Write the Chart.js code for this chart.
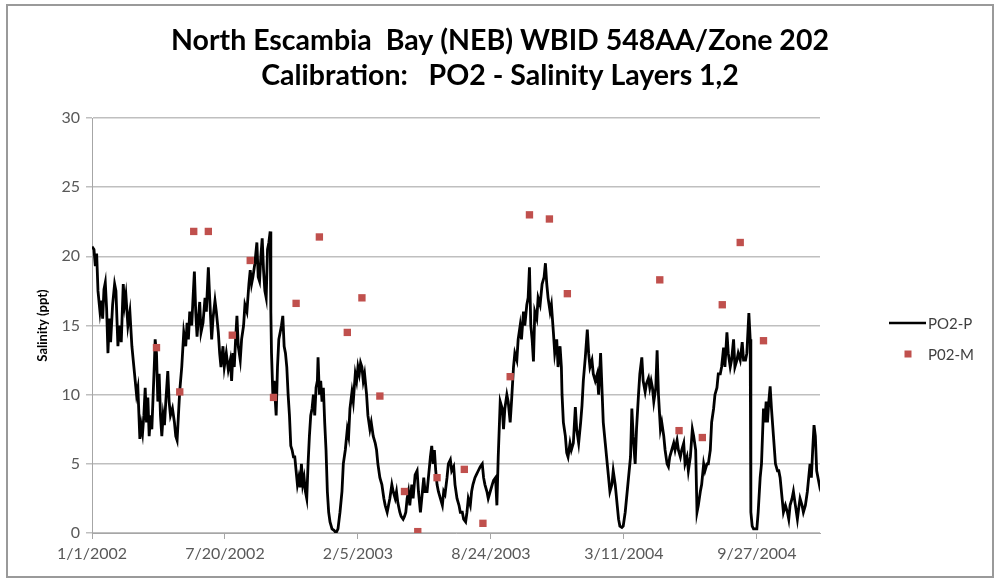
<!DOCTYPE html>
<html>
<head>
<meta charset="utf-8">
<script src="https://cdn.jsdelivr.net/npm/chart.js@4.4.1/dist/chart.umd.min.js"></script>
<style>
  html, body { margin: 0; padding: 0; background: #fff; }
  #wrap { width: 997px; height: 578px; }
</style>
</head>
<body>
<div id="wrap"><canvas id="chart" width="997" height="578"></canvas></div>
<script>
// ==========================================
// DATA (days since 1/1/2002, salinity in ppt)
// ==========================================
const xTickDays = [0, 200, 400, 600, 800, 1000];
const xTickLabels = ['1/1/2002', '7/20/2002', '2/5/2003', '8/24/2003', '3/11/2004', '9/27/2004'];

// PO2-P model line
const lineDays = [
  0,3,5,7,9,12,14,16,18,20,22,24,26,28,31,34,36,39,41,44,47,49,51,54,57,60,62,64,67,69,
  72,74,76,78,80,82,84,86,88,90,92,94,95,97,99,101,103,105,107,109,111,114,116,118,121,124,126,128,130,132,
  135,138,141,143,145,147,150,152,154,156,158,160,162,164,167,170,172,175,177,180,182,185,187,190,192,194,197,199,202,205,
  208,210,212,214,216,218,220,223,225,228,230,233,236,238,240,242,245,248,250,252,254,256,258,260,262,264,266,268,269,270,
  272,274,277,279,281,283,285,287,289,291,293,295,297,299,301,303,305,307,309,311,313,315,317,319,321,323,325,327,329,331,
  333,335,337,339,340,342,344,346,348,350,352,354,356,358,361,364,367,370,373,376,378,381,384,386,388,391,393,396,398,400,
  402,404,406,408,410,413,415,418,420,423,426,428,430,433,436,439,441,444,446,448,451,453,456,458,460,463,465,468,470,472,
  474,476,478,481,483,486,489,491,494,496,499,501,504,506,509,511,513,515,517,519,521,524,527,529,531,534,536,539,541,544,
  546,549,552,554,557,559,562,564,566,569,571,573,576,578,581,584,587,589,591,594,596,599,602,604,607,609,611,614,617,619,
  621,624,626,629,631,634,636,639,641,644,646,649,651,654,656,658,660,662,664,666,669,671,674,677,680,682,684,686,689,691,
  694,696,699,701,704,706,707,709,712,714,716,719,721,724,727,729,732,735,737,739,742,745,747,749,752,754,757,760,762,765,
  767,769,772,775,777,779,782,784,787,790,792,794,797,799,802,805,807,810,812,814,817,819,822,824,827,829,832,834,837,839,
  841,843,845,848,850,852,855,857,860,862,865,867,869,872,875,877,880,882,885,887,890,892,895,897,900,903,905,908,910,912,
  915,917,920,922,925,927,930,932,935,937,940,942,945,947,950,952,955,957,960,962,965,967,970,972,975,978,980,983,985,988,
  990,991,993,995,997,1000,1002,1005,1007,1010,1012,1014,1016,1018,1020,1022,1025,1028,1031,1033,1035,1038,1040,1043,1046,1048,1050,1053,1055,1058,
  1061,1063,1065,1068,1070,1073,1076,1078,1080,1082,1084,1086,1088,1090,1092,1094,1095
];
const lineVals = [
  20.7,20.5,19.3,20.2,17.5,16.0,16.8,15.5,17.6,18.1,16.2,13.0,15.5,13.8,16.5,18.0,17.5,13.5,15.0,13.8,18.0,16.5,17.2,15.0,16.0,13.5,12.5,11.5,10.0,10.5,
  6.8,7.8,7.2,8.5,10.5,8.0,9.8,7.0,8.5,7.5,10.0,12.5,14.0,13.0,9.5,11.5,8.5,7.0,8.5,7.8,9.5,11.7,9.5,8.5,9.0,8.0,7.0,6.7,8.5,10.3,
  12.0,14.5,13.5,15.2,14.0,16.0,15.0,17.0,18.9,16.0,14.2,15.5,16.7,14.5,15.2,17.0,16.0,19.2,17.0,14.0,15.5,16.8,16.0,14.5,13.0,12.0,13.5,12.0,13.0,11.8,
  12.5,11.0,13.0,12.0,14.0,15.7,13.5,12.5,14.0,15.0,16.5,16.0,18.0,19.0,18.0,18.5,19.5,21.0,18.5,18.2,20.0,21.3,19.0,17.5,17.0,20.5,21.0,21.8,16.0,13.0,
  10.0,11.0,8.5,12.0,14.0,14.5,15.0,15.7,13.5,13.0,12.0,10.0,8.5,6.3,6.0,5.5,5.5,4.5,3.5,4.0,3.3,5.0,3.5,4.0,3.0,2.5,5.0,7.0,8.5,9.0,
  10.0,8.5,10.5,11.0,12.7,10.0,11.0,9.5,10.5,8.0,6.0,3.0,1.5,0.8,0.3,0.2,0.0,0.3,1.5,3.0,5.0,6.0,7.5,7.0,9.0,10.2,9.5,11.5,11.0,12.0,
  11.5,12.3,12.0,11.0,11.5,10.0,8.5,7.5,8.0,7.0,6.5,6.0,5.0,4.0,3.5,2.5,2.0,1.5,2.0,2.5,3.5,3.0,2.5,3.0,2.2,1.5,1.2,1.0,1.2,1.5,
  2.5,3.0,2.0,3.5,2.5,4.2,4.5,3.0,1.5,2.5,4.0,3.0,3.0,4.0,5.5,6.3,5.0,6.0,4.5,3.5,3.0,2.5,2.0,3.0,2.8,4.0,5.0,5.3,4.5,4.8,
  3.5,2.5,2.0,1.5,1.5,1.0,0.8,1.5,2.5,2.0,3.0,3.5,4.0,4.2,4.5,4.8,5.0,4.0,3.5,3.0,2.5,3.0,3.5,3.8,4.0,2.0,5.5,9.5,9.0,7.5,
  9.0,10.0,9.5,8.0,9.5,12.0,13.0,12.5,14.0,15.0,14.0,16.0,15.0,16.5,17.0,19.2,15.0,14.0,12.4,16.0,15.5,17.0,16.5,18.0,18.5,19.5,18.0,17.0,16.0,16.5,
  14.5,13.0,14.0,12.0,13.5,12.0,10.0,8.0,7.0,5.8,5.5,6.5,6.0,6.5,9.1,7.5,6.5,8.0,9.2,11.0,12.7,14.7,13.0,12.0,12.5,11.5,11.0,11.5,10.0,13.0,
  10.5,8.0,6.5,5.0,4.0,3.0,3.5,4.5,3.5,2.0,1.0,0.5,0.4,0.5,1.5,3.0,4.0,5.5,9.0,7.0,5.0,7.5,10.0,11.5,12.7,11.0,10.2,10.8,11.2,10.5,
  11.0,10.5,9.5,10.5,13.2,10.0,7.5,8.0,7.0,6.0,5.0,4.8,5.5,6.0,6.5,6.0,6.7,6.0,5.5,6.0,6.5,5.0,5.5,4.5,5.5,7.5,7.0,6.0,1.5,2.0,
  3.0,3.5,5.0,4.5,5.0,5.0,6.0,8.0,9.0,10.0,10.5,11.5,11.5,12.0,13.4,12.0,14.5,13.0,12.0,12.5,14.0,12.0,12.5,13.0,12.5,13.8,12.5,12.5,13.0,15.9,
  14.0,1.5,0.5,0.3,0.3,0.3,1.5,4.0,5.0,9.0,8.0,9.5,8.0,9.5,10.6,9.0,7.0,5.0,4.5,4.5,4.0,2.5,1.5,2.0,1.5,1.0,2.0,2.5,3.0,2.0,
  1.0,1.8,2.5,2.0,1.5,2.0,3.0,4.0,5.0,4.0,6.0,7.8,7.0,4.5,4.0,3.5,3.8
];

// P02-M observations
const obsDays = [97, 132, 153, 175, 211, 238, 273, 307, 342, 384, 406, 433, 470, 490, 519, 560, 588, 629, 658, 688, 715, 854, 883, 918, 948, 975, 1010];
const obsVals = [13.4, 10.2, 21.8, 21.8, 14.3, 19.7, 9.8, 16.6, 21.4, 14.5, 17.0, 9.9, 3.0, 0.1, 4.0, 4.6, 0.7, 11.3, 23.0, 22.7, 17.3, 18.3, 7.4, 6.9, 16.5, 21.0, 13.9];

const titleLines = ['North Escambia  Bay (NEB) WBID 548AA/Zone 202', 'Calibration:   PO2 - Salinity Layers 1,2'];
const seriesNames = ['PO2-P', 'P02-M'];

// ==========================================
// CHART
// ==========================================
const FONT = 'Lato, "Open Sans", sans-serif';
const RED = '#C0504D';

// frame, title and legend drawn like the Excel original
const framePlugin = {
  id: 'frame',
  afterDraw(chart) {
    const ctx = chart.ctx;
    ctx.save();
    ctx.strokeStyle = '#9a9a9a';
    ctx.lineWidth = 2;
    ctx.strokeRect(7, 5, 986, 572);

    // title, centred on the whole picture
    ctx.fillStyle = '#000';
    ctx.font = 'bold 28.5px ' + FONT;
    ctx.textAlign = 'center';
    ctx.textBaseline = 'middle';
    ctx.fillText(titleLines[0], 500, 41);
    ctx.fillText(titleLines[1], 500, 76);

    // legend
    ctx.textAlign = 'left';
    ctx.font = '15px ' + FONT;
    ctx.strokeStyle = '#000';
    ctx.lineWidth = 2.5;
    ctx.beginPath();
    ctx.moveTo(889, 323);
    ctx.lineTo(926, 323);
    ctx.stroke();
    ctx.fillStyle = '#404040';
    ctx.fillText(seriesNames[0], 928, 324);
    ctx.fillStyle = RED;
    ctx.fillRect(904.5, 350.5, 7, 7);
    ctx.fillStyle = '#404040';
    ctx.fillText(seriesNames[1], 928, 355);
    ctx.restore();
  }
};

new Chart(document.getElementById('chart').getContext('2d'), {
  data: {
    datasets: [
      {
        type: 'scatter',
        label: seriesNames[1],
        data: obsDays.map((d, i) => ({ x: d, y: obsVals[i] })),
        pointStyle: 'rect',
        pointRadius: 5.2,
        backgroundColor: RED,
        borderColor: RED,
        borderWidth: 0,
        order: 1
      },
      {
        type: 'line',
        label: seriesNames[0],
        data: lineDays.map((d, i) => ({ x: d, y: lineVals[i] })),
        borderColor: '#000',
        borderWidth: 2.8,
        pointRadius: 0,
        tension: 0,
        fill: false,
        order: 2
      }
    ]
  },
  options: {
    responsive: false,
    animation: false,
    events: [],
    layout: { padding: { left: 0, right: 177, top: 118, bottom: 0 } },
    plugins: {
      legend: { display: false },
      tooltip: { enabled: false },
      title: { display: false }
    },
    scales: {
      x: {
        type: 'linear',
        min: 0,
        max: 1095,
        afterBuildTicks: scale => { scale.ticks = xTickDays.map(v => ({ value: v })); },
        afterFit: scale => { scale.height = 45; },
        ticks: {
          autoSkip: false,
          maxRotation: 0,
          padding: 5,
          color: '#595959',
          font: { family: FONT, size: 16 },
          callback: (v, i) => xTickLabels[i]
        },
        grid: { drawOnChartArea: false, drawTicks: true, tickLength: 6, color: '#a6a6a6' },
        border: { display: true, color: '#a6a6a6', width: 1 }
      },
      y: {
        min: 0,
        max: 30,
        afterFit: scale => { scale.width = 92; },
        ticks: {
          stepSize: 5,
          padding: 6,
          color: '#595959',
          font: { family: FONT, size: 16 }
        },
        grid: { color: '#bfbfbf', tickLength: 6, lineWidth: 1.5 },
        border: { display: true, color: '#a6a6a6', width: 1 },
        title: {
          display: true,
          text: 'Salinity (ppt)',
          color: '#000',
          font: { family: FONT, size: 13, weight: 'bold' },
          padding: { top: 35, bottom: 0 }
        }
      }
    }
  },
  plugins: [framePlugin]
});
</script>
</body>
</html>
